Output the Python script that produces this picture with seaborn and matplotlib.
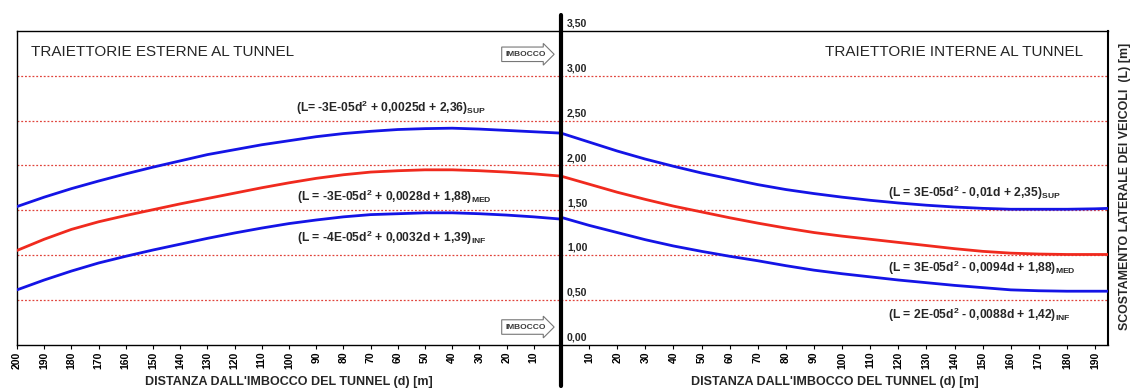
import numpy as np
import pandas as pd
import matplotlib
matplotlib.use("Agg")
import matplotlib.pyplot as plt
import matplotlib.transforms as mtransforms
from matplotlib.lines import Line2D
import seaborn as sns

# ---------------- data ----------------
d_ext = [200, 190, 180, 170, 160, 150, 140, 130, 120, 110, 100,
         90, 80, 70, 60, 50, 40, 30, 20, 10, 0]
ext_sup = [1.54, 1.645, 1.74, 1.825, 1.905, 1.98, 2.05, 2.12, 2.175, 2.23, 2.275,
           2.32, 2.355, 2.38, 2.40, 2.41, 2.415, 2.405, 2.39, 2.375, 2.36]
ext_med = [1.05, 1.175, 1.285, 1.37, 1.44, 1.505, 1.57, 1.63, 1.69, 1.75, 1.805,
           1.855, 1.895, 1.925, 1.94, 1.95, 1.95, 1.94, 1.925, 1.905, 1.88]
ext_inf = [0.61, 0.72, 0.82, 0.91, 0.985, 1.055, 1.12, 1.185, 1.245, 1.30, 1.35,
           1.39, 1.425, 1.45, 1.46, 1.47, 1.47, 1.46, 1.445, 1.425, 1.40]

d_int = [0, 10, 20, 30, 40, 50, 60, 70, 80, 90, 100,
         110, 120, 130, 140, 150, 160, 170, 180, 190, 195]
int_sup = [2.36, 2.26, 2.16, 2.07, 1.99, 1.915, 1.85, 1.785, 1.73, 1.685, 1.645,
           1.61, 1.58, 1.555, 1.535, 1.52, 1.51, 1.51, 1.51, 1.515, 1.52]
int_med = [1.88, 1.79, 1.70, 1.62, 1.545, 1.48, 1.415, 1.355, 1.30, 1.25, 1.21,
           1.175, 1.14, 1.105, 1.07, 1.04, 1.02, 1.01, 1.005, 1.005, 1.005]
int_inf = [1.42, 1.33, 1.25, 1.17, 1.10, 1.04, 0.985, 0.935, 0.88, 0.83, 0.79,
           0.755, 0.72, 0.69, 0.66, 0.635, 0.61, 0.60, 0.595, 0.595, 0.595]

y_grid = [0.5, 1.0, 1.5, 2.0, 2.5, 3.0]
y_labels_vals = [0.0, 0.5, 1.0, 1.5, 2.0, 2.5, 3.0, 3.5]
x_ticks_ext = list(range(10, 201, 10))
x_ticks_int = list(range(10, 191, 10))

eq_ext = [
    r"(L= -3E-05d$^2$ + 0,0025d + 2,36)$_{\mathrm{SUP}}$",
    r"(L = -3E-05d$^2$ + 0,0028d + 1,88)$_{\mathrm{MED}}$",
    r"(L = -4E-05d$^2$ + 0,0032d + 1,39)$_{\mathrm{INF}}$",
]
eq_int = [
    r"(L = 3E-05d$^2$ - 0,01d + 2,35)$_{\mathrm{SUP}}$",
    r"(L = 3E-05d$^2$ - 0,0094d + 1,88)$_{\mathrm{MED}}$",
    r"(L = 2E-05d$^2$ - 0,0088d + 1,42)$_{\mathrm{INF}}$",
]
xlabel = "DISTANZA DALL'IMBOCCO DEL TUNNEL (d) [m]"
ylabel = "SCOSTAMENTO LATERALE DEI VEICOLI  (L) [m]"

# ---------------- style ----------------
sns.set_style("white")
plt.rcParams["font.family"] = ["Liberation Sans", "DejaVu Sans"]
plt.rcParams["mathtext.fontset"] = "custom"
plt.rcParams["mathtext.rm"] = "Liberation Sans:bold"
plt.rcParams["mathtext.bf"] = "Liberation Sans:bold"
plt.rcParams["mathtext.it"] = "Liberation Sans:bold"

BLUE = "#1414e6"
RED = "#f02a1e"
GRID = "#e0443c"

W, H = 1134, 391
fig = plt.figure(figsize=(W / 100, H / 100), dpi=100)
top_px, bot_px = 31, 344.5
left_px, mid_px, right_px = 17, 561, 1108
b = 1 - bot_px / H
h = (bot_px - top_px) / H
ax_l = fig.add_axes([left_px / W, b, (mid_px - left_px) / W, h])
ax_r = fig.add_axes([mid_px / W, b, (right_px - mid_px) / W, h])

df_ext = pd.DataFrame({"d": d_ext, "sup": ext_sup, "med": ext_med, "inf": ext_inf})
df_int = pd.DataFrame({"d": d_int, "sup": int_sup, "med": int_med, "inf": int_inf})

for ax, df in ((ax_l, df_ext), (ax_r, df_int)):
    for col, c in (("sup", BLUE), ("med", RED), ("inf", BLUE)):
        sns.lineplot(data=df, x="d", y=col, color=c, lw=2.0, ax=ax, zorder=3)
    for yv in y_grid:
        ax.axhline(yv, color=GRID, lw=0.9, ls=(0, (1.5, 1.5)), zorder=1)
    ax.set_ylim(0, 3.5)
    ax.set_yticks([])
    ax.set_ylabel("")
    for s in ax.spines.values():
        s.set_color("black")
        s.set_linewidth(1.0)
    ax.tick_params(axis="x", direction="out", length=3, width=0.8, pad=2,
                   bottom=True, colors="black")
    ax.set_xlabel(xlabel, fontsize=9, fontweight="bold", labelpad=5)

ax_l.set_xlim(200, 0)
ax_l.set_xticks(x_ticks_ext)
ax_l.set_xticklabels([str(v) for v in x_ticks_ext], fontweight="bold", fontsize=7.5, rotation=90)
ax_l.spines["right"].set_visible(False)

ax_r.set_xlim(0, 194.6)
ax_r.set_xticks(x_ticks_int)
ax_r.set_xticklabels([str(v) for v in x_ticks_int], fontweight="bold", fontsize=7.5, rotation=90)
ax_r.spines["left"].set_visible(False)
ax_r.spines["right"].set_linewidth(1.5)

# y value labels next to the central line
trans = mtransforms.blended_transform_factory(ax_r.transAxes, ax_r.transData)
trans = mtransforms.offset_copy(trans, fig=fig, x=6, y=2, units="dots")
for v in y_labels_vals:
    ax_r.text(0, v, f"{v:.2f}".replace(".", ","), transform=trans, ha="left",
              va="bottom", fontsize=7.6, fontweight="bold", clip_on=False)

# panel titles
ax_l.text(0.026, 0.933, "TRAIETTORIE ESTERNE AL TUNNEL", transform=ax_l.transAxes,
          fontsize=11, va="center", ha="left")
ax_r.text(0.483, 0.933, "TRAIETTORIE INTERNE AL TUNNEL", transform=ax_r.transAxes,
          fontsize=11, va="center", ha="left")

# equations
for txt, (xx, yy) in zip(eq_ext, [(97.4, 2.64), (97.0, 1.646), (97.0, 1.19)]):
    ax_l.text(xx, yy, txt, fontsize=8.7, fontweight="bold", ha="left", va="center")
for txt, (xx, yy) in zip(eq_int, [(116.5, 1.69), (116.5, 0.854), (116.2, 0.33)]):
    ax_r.text(xx, yy, txt, fontsize=8.7, fontweight="bold", ha="left", va="center")

# IMBOCCO arrows
for yy in (3.24, 0.195):
    ax_l.text(13.0, yy, "IMBOCCO", fontsize=6, fontweight="bold", color="#3a3a3a",
              ha="center", va="center",
              bbox=dict(boxstyle="rarrow,pad=0.45", fc="white", ec="#777777", lw=0.8))

# y axis title on the right
fig.text(1125 / W, 1 - 186 / H, ylabel, rotation=90, ha="center", va="center",
         fontsize=8.9, fontweight="bold")

# thick central (tunnel entrance) line
fig.add_artist(Line2D([mid_px / W, mid_px / W], [1 - 15 / H, 1 - 386 / H],
                      color="black", lw=3.0, transform=fig.transFigure, zorder=10))

fig.savefig("out.png", dpi=100, facecolor="white")
